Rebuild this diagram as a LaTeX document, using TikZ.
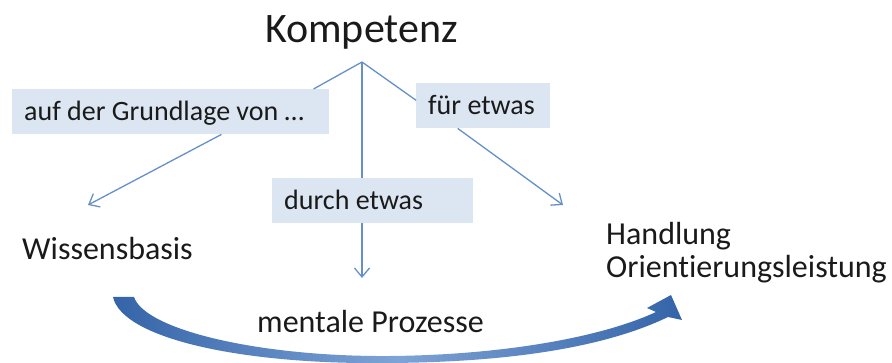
\documentclass[tikz,border=0pt]{standalone}
\usepackage{fontspec}
\setmainfont{Carlito}[Ligatures=NoCommon]
\usetikzlibrary{arrows.meta,calc}
\definecolor{boxfill}{HTML}{DCE6F2}
\definecolor{linkblue}{HTML}{6690C8}
\definecolor{arcdark}{HTML}{3464A8}
\definecolor{arclight}{HTML}{7EA3D6}
\definecolor{ink}{HTML}{1A1A1A}

\begin{document}
\begin{tikzpicture}[x=1pt,y=-1pt,
  every node/.style={text=ink},
  tag/.style={fill=boxfill, inner xsep=12pt, inner ysep=0pt, minimum height=45pt,
    text height=22pt, text depth=5pt, font=\fontsize{28}{32}\selectfont, anchor=north west},
  term/.style={inner sep=0pt, anchor=base west, font=\fontsize{32}{36}\selectfont},
  link/.style={draw=linkblue, line width=1.3pt},
  linkarrow/.style={link, -{Straight Barb[length=9pt,width=15pt,line width=1.3pt]}}]

\useasboundingbox (0,0) rectangle (892,363);

% title and the three relation tags
\node[term, font=\fontsize{42}{48}\selectfont] (komp) at (265,43) {Kompetenz};
\coordinate (apex) at (362,62);

\node[tag] (auf)   at (12,89)   {\makebox[293pt][l]{auf der Grundlage von …}};
\node[tag] (durch) at (272,178) {\makebox[177pt][l]{durch etwas}};
\node[tag] (fuer)  at (416,83)  {\makebox[110pt][l]{für etwas}};

% the three targets
\node[term] (wissen) at (22,260)  {Wissensbasis};
\node[term] (handl)  at (606,245) {Handlung};
\node[term] (orient) at (606,278) {Orientierungsleistung};
\node[term] (mental) at (257,333) {mentale Prozesse};

% branches from the title
\draw[link] (apex) -- ($(auf.north west)!0.95!(auf.north east)$);
\draw[link] (apex) -- ($(fuer.north west)!0.38!(fuer.south west)$);
\draw[link] (apex) -- (apex |- durch.north);

% arrows from the tags down to the targets
\coordinate (tipW) at (88,205);
\coordinate (tipF) at (563,205);
\coordinate (tipM) at (362,278);
\draw[linkarrow] ($(auf.south west)!0.66!(auf.south east)$) -- (tipW);
\draw[linkarrow] ($(fuer.south west)!0.31!(fuer.south east)$) -- (tipF);
\draw[linkarrow] (apex |- durch.south) -- (tipM);

% broad curved arrow from the knowledge base to the action
\shade[left color=arcdark, right color=arcdark, middle color=arclight]
  (113,297) .. controls (122,338) and (240,365) .. (390,363)
  .. controls (520,362) and (610,345) .. (668,317)
  -- (682,320) -- (671,295) -- (647,308) -- (656,312)
  .. controls (600,338) and (500,355) .. (390,356)
  .. controls (260,357) and (145,330) .. (134,297) -- cycle;
\end{tikzpicture}
\end{document}
